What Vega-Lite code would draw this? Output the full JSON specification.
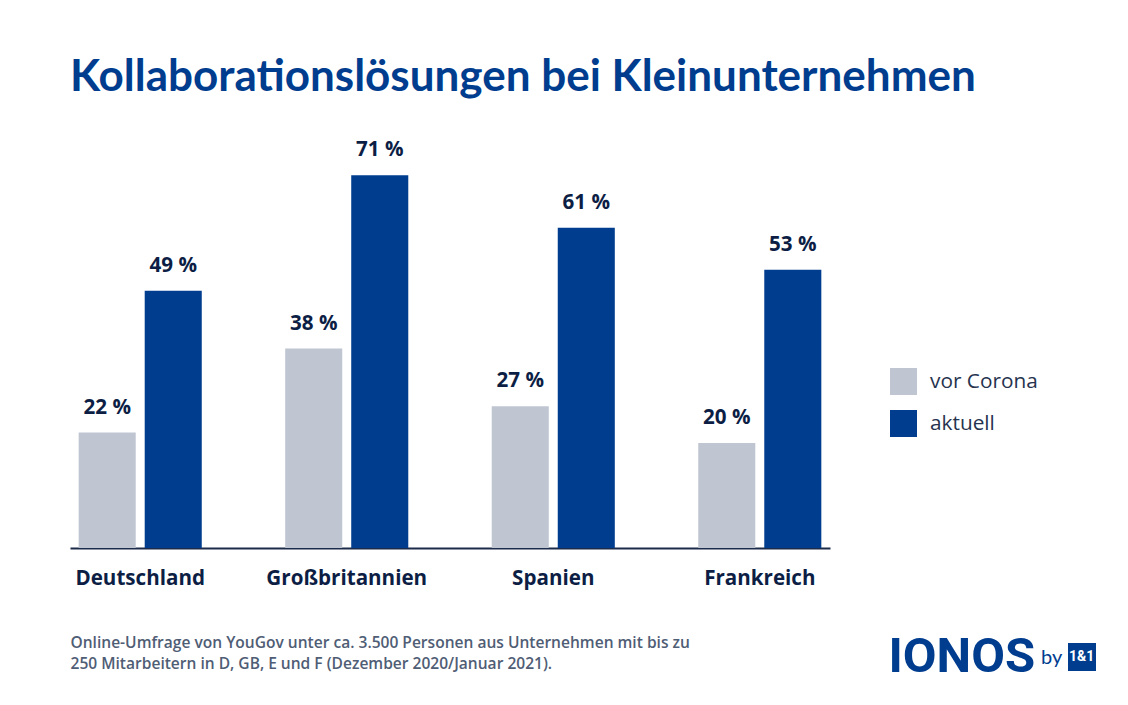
{
  "$schema": "https://vega.github.io/schema/vega-lite/v6.json",
  "width": 760,
  "height": 399,
  "autosize": "none",
  "padding": {"left": 70, "top": 149, "right": 298, "bottom": 157},
  "background": "white",
  "title": {
    "text": "Kollaborationslösungen bei Kleinunternehmen",
    "anchor": "start",
    "frame": "group",
    "font": "Lato",
    "fontWeight": 700,
    "fontSize": 44,
    "color": "#003d8f",
    "offset": 40
  },
  "datasets": {
    "survey": [
      {"land": "Deutschland", "zeit": "vor Corona", "anteil": 22, "label": "22 %"},
      {"land": "Deutschland", "zeit": "aktuell", "anteil": 49, "label": "49 %"},
      {"land": "Großbritannien", "zeit": "vor Corona", "anteil": 38, "label": "38 %"},
      {"land": "Großbritannien", "zeit": "aktuell", "anteil": 71, "label": "71 %"},
      {"land": "Spanien", "zeit": "vor Corona", "anteil": 27, "label": "27 %"},
      {"land": "Spanien", "zeit": "aktuell", "anteil": 61, "label": "61 %"},
      {"land": "Frankreich", "zeit": "vor Corona", "anteil": 20, "label": "20 %"},
      {"land": "Frankreich", "zeit": "aktuell", "anteil": 53, "label": "53 %"}
    ]
  },
  "layer": [
    {
      "data": {"name": "survey"},
      "mark": "bar",
      "encoding": {
        "x": {
          "field": "land",
          "type": "nominal",
          "sort": null,
          "scale": {"paddingInner": 0.404, "paddingOuter": 0.042},
          "axis": {
            "labelAngle": 0,
            "labelFont": "Open Sans",
            "labelFontWeight": 700,
            "labelFontSize": 20.6,
            "labelColor": "#0d1e45",
            "labelPadding": 20,
            "ticks": false,
            "domainColor": "#1c2b4a",
            "domainWidth": 2,
            "title": [
              "Online-Umfrage von YouGov unter ca. 3.500 Personen aus Unternehmen mit bis zu",
              "250 Mitarbeitern in D, GB, E und F (Dezember 2020/Januar 2021)."
            ],
            "titleFont": "Open Sans",
            "titleFontWeight": 600,
            "titleFontSize": 15.55,
            "titleColor": "#4f5d75",
            "titleLineHeight": 21,
            "titleAnchor": "start",
            "titleAlign": "left",
            "titleBaseline": "alphabetic",
            "titleX": 0,
            "titleY": 99
          }
        },
        "xOffset": {
          "field": "zeit",
          "type": "nominal",
          "sort": ["vor Corona", "aktuell"],
          "scale": {"paddingInner": 0.136}
        },
        "y": {
          "field": "anteil",
          "type": "quantitative",
          "scale": {"domain": [0, 76], "nice": false},
          "axis": {
            "grid": false,
            "labels": false,
            "ticks": false,
            "domain": false,
            "title": "IONOS",
            "titleFont": "Roboto",
            "titleFontWeight": 700,
            "titleFontSize": 49,
            "titleColor": "#003d8f",
            "titleAngle": 0,
            "titleAlign": "left",
            "titleBaseline": "alphabetic",
            "titleX": 818,
            "titleY": 522
          }
        },
        "color": {
          "field": "zeit",
          "type": "nominal",
          "sort": ["vor Corona", "aktuell"],
          "scale": {"domain": ["vor Corona", "aktuell"], "range": ["#bfc6d2", "#003d8f"]},
          "legend": {
            "title": null,
            "orient": "none",
            "legendX": 820,
            "legendY": 219,
            "symbolType": "square",
            "symbolSize": 729,
            "symbolStrokeWidth": 0,
            "symbolOpacity": 1,
            "labelFont": "Open Sans",
            "labelFontSize": 20.8,
            "labelColor": "#26334f",
            "labelOffset": 13,
            "rowPadding": 15
          }
        }
      }
    },
    {
      "data": {"name": "survey"},
      "mark": {
        "type": "text",
        "dy": -25,
        "font": "Open Sans",
        "fontWeight": 700,
        "fontSize": 20.6,
        "color": "#0d1e45"
      },
      "encoding": {
        "x": {"field": "land", "type": "nominal", "sort": null},
        "xOffset": {"field": "zeit", "type": "nominal", "sort": ["vor Corona", "aktuell"]},
        "y": {"field": "anteil", "type": "quantitative"},
        "text": {"field": "label"}
      }
    },
    {
      "data": {"values": [{"marke": "1&1"}]},
      "mark": {"type": "point", "size": 0, "filled": true, "color": "#003d8f"},
      "encoding": {
        "shape": {
          "field": "marke",
          "type": "nominal",
          "scale": {"range": ["square"]},
          "legend": {
            "title": "by",
            "titleOrient": "left",
            "titleFont": "Lato",
            "titleFontWeight": 400,
            "titleFontSize": 20,
            "titleColor": "#003d8f",
            "titlePadding": 4,
            "orient": "none",
            "legendX": 971,
            "legendY": 493,
            "symbolSize": 784,
            "symbolFillColor": "#003d8f",
            "symbolStrokeColor": "#003d8f",
            "symbolOpacity": 1,
            "labelFont": "Roboto",
            "labelFontWeight": 700,
            "labelFontSize": 14,
            "labelColor": "white",
            "labelOffset": -28
          }
        }
      }
    }
  ],
  "config": {"view": {"stroke": null}}
}
